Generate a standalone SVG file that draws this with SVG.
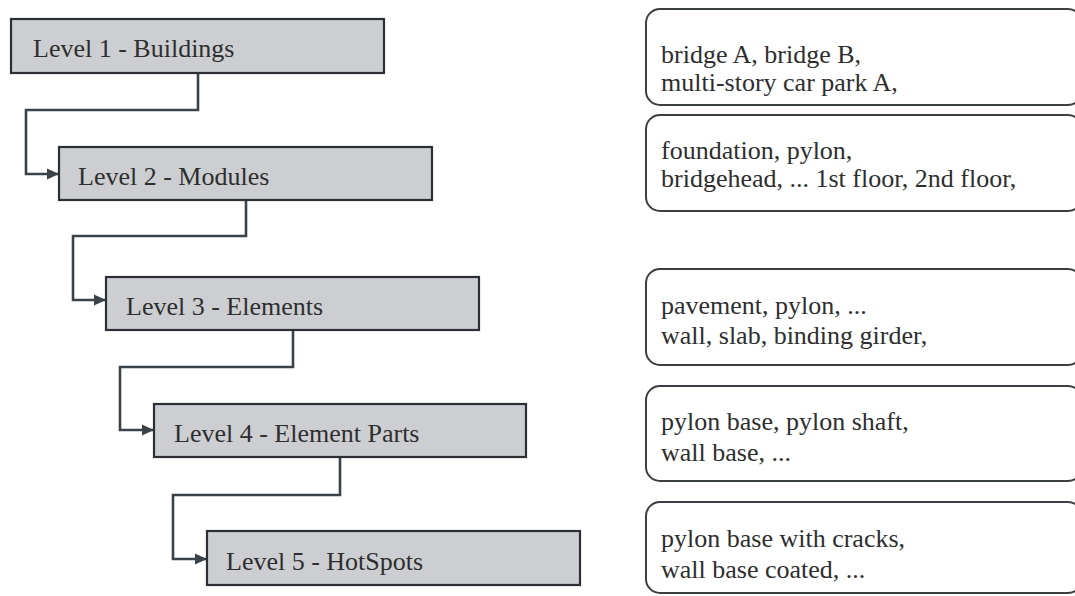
<svg xmlns="http://www.w3.org/2000/svg" width="1075" height="596" viewBox="0 0 1075 596">
<style>
.lvl{fill:#cdced2;stroke:#2c3034;stroke-width:2.2}
.info{fill:#ffffff;stroke:#3a3f43;stroke-width:2}
.t{font-family:"Liberation Serif","Times New Roman",serif;font-size:26px;fill:#2e2e2e}
.c{fill:none;stroke:#3b4348;stroke-width:2.6}
</style>
<defs>
<marker id="arr" markerWidth="12" markerHeight="12" refX="11" refY="6" orient="auto" markerUnits="userSpaceOnUse">
<path d="M0,0.5 L12,6 L0,11.5 Z" fill="#3b4348"/>
</marker>
</defs>
<g id="connectors">
<path class="c" d="M198,73 V110 H26 V174 H58" marker-end="url(#arr)"/>
<path class="c" d="M246,200 V236 H73 V300 H105" marker-end="url(#arr)"/>
<path class="c" d="M293,330 V367 H120 V430 H153" marker-end="url(#arr)"/>
<path class="c" d="M340,457 V495 H173 V559 H206" marker-end="url(#arr)"/>
</g>
<g id="level1"><rect class="lvl" x="11" y="19" width="373" height="54"/><text class="t" x="33" y="57">Level 1 - Buildings</text></g>
<g id="level2"><rect class="lvl" x="59" y="147" width="373" height="53"/><text class="t" x="78" y="185">Level 2 - Modules</text></g>
<g id="level3"><rect class="lvl" x="106" y="277" width="373" height="53"/><text class="t" x="126" y="315">Level 3 - Elements</text></g>
<g id="level4"><rect class="lvl" x="154" y="404" width="372" height="53"/><text class="t" x="174" y="442">Level 4 - Element Parts</text></g>
<g id="level5"><rect class="lvl" x="207" y="531" width="373" height="54"/><text class="t" x="226" y="570">Level 5 - HotSpots</text></g>
<g id="info1"><rect class="info" x="646" y="9" width="436" height="96" rx="14"/><text class="t" x="661" y="63">bridge A, bridge B,</text><text class="t" x="661" y="91">multi-story car park A,</text></g>
<g id="info2"><rect class="info" x="646" y="115" width="436" height="96" rx="14"/><text class="t" x="661" y="159">foundation, pylon,</text><text class="t" x="661" y="187">bridgehead, ... 1st floor, 2nd floor,</text></g>
<g id="info3"><rect class="info" x="646" y="269" width="436" height="96" rx="14"/><text class="t" x="661" y="314">pavement, pylon, ...</text><text class="t" x="661" y="344">wall, slab, binding girder,</text></g>
<g id="info4"><rect class="info" x="646" y="386" width="436" height="95" rx="14"/><text class="t" x="661" y="430">pylon base, pylon shaft,</text><text class="t" x="661" y="461">wall base, ...</text></g>
<g id="info5"><rect class="info" x="646" y="502" width="436" height="91" rx="14"/><text class="t" x="661" y="547">pylon base with cracks,</text><text class="t" x="661" y="578">wall base coated, ...</text></g>
</svg>
